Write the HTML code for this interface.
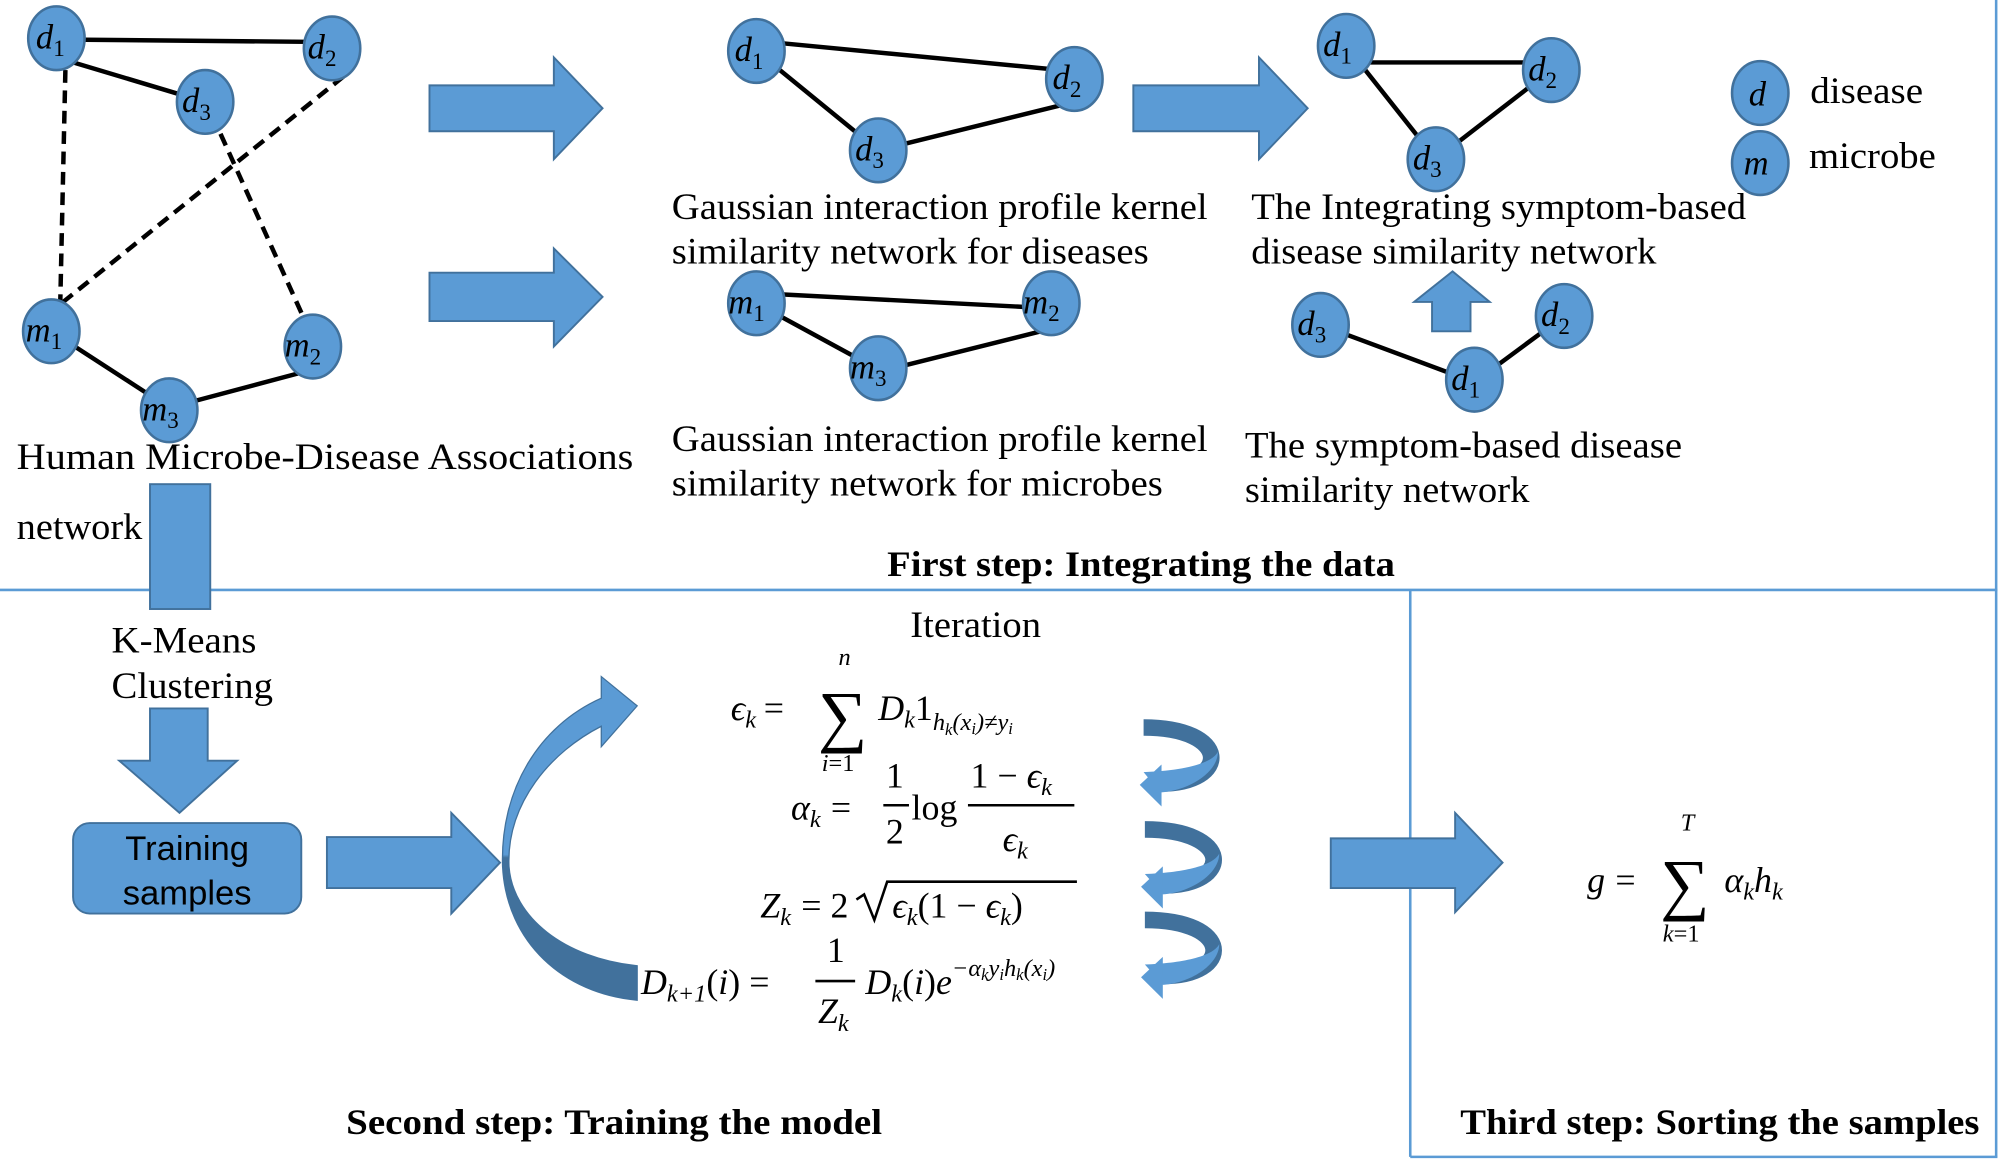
<!DOCTYPE html>
<html><head><meta charset="utf-8"><style>
html,body{margin:0;padding:0;background:#fff;}
svg{display:block}
text{font-family:"Liberation Serif",serif;fill:#000}
.t{font-size:29px}
.m{font-style:italic;font-size:28px}
.s{font-style:italic;font-size:19px}
.n{font-style:italic;font-size:27px}
.ns{font-size:18px}
.b{font-weight:bold;font-size:28px}
</style></head><body>
<svg width="2000" height="1162" viewBox="0 0 1560 912" preserveAspectRatio="none" xmlns="http://www.w3.org/2000/svg">
<defs>
<linearGradient id="cg" x1="0" y1="0" x2="0" y2="1">
<stop offset="0" stop-color="#5b9bd5"/><stop offset="0.55" stop-color="#5b9bd5"/><stop offset="0.56" stop-color="#41719c"/><stop offset="1" stop-color="#41719c"/>
</linearGradient>
</defs>
<g stroke="#5b9bd5" stroke-width="2" fill="none">
<line x1="0" y1="463" x2="1558" y2="463"/>
<line x1="1557" y1="0" x2="1557" y2="908"/>
<line x1="1100" y1="463" x2="1100" y2="908"/>
<line x1="1100" y1="908" x2="1558" y2="908"/>
</g>
<g stroke="#000" stroke-width="3.5" fill="none">
<line x1="44" y1="31" x2="259" y2="33"/>
<line x1="44" y1="45" x2="160" y2="80"/>
<line x1="40" y1="260" x2="132" y2="320"/>
<line x1="132" y1="320" x2="244" y2="290"/>
<line x1="590" y1="32" x2="838" y2="56"/>
<line x1="590" y1="40" x2="685" y2="118"/>
<line x1="685" y1="118" x2="838" y2="80"/>
<line x1="590" y1="230" x2="820" y2="242"/>
<line x1="590" y1="238" x2="685" y2="290"/>
<line x1="685" y1="292" x2="820" y2="258"/>
<line x1="1050" y1="49" x2="1210" y2="49"/>
<line x1="1050" y1="36" x2="1120" y2="125"/>
<line x1="1210" y1="55" x2="1120" y2="125"/>
<line x1="1030" y1="255" x2="1150" y2="300"/>
<line x1="1150" y1="300" x2="1220" y2="248"/>
</g>
<g stroke="#000" stroke-width="3.5" fill="none" stroke-dasharray="10,6">
<line x1="51" y1="55" x2="47" y2="238"/>
<line x1="268" y1="60" x2="48" y2="238"/>
<line x1="172" y1="105" x2="238" y2="252"/>
</g>
<g fill="#5b9bd5" stroke="#41719c" stroke-width="2">
<ellipse cx="44" cy="30" rx="22" ry="25"/>
<ellipse cx="259" cy="38" rx="22" ry="25"/>
<ellipse cx="160" cy="80" rx="22" ry="25"/>
<ellipse cx="40" cy="260" rx="22" ry="25"/>
<ellipse cx="244" cy="272" rx="22" ry="25"/>
<ellipse cx="132" cy="322" rx="22" ry="25"/>
<ellipse cx="590" cy="40" rx="22" ry="25"/>
<ellipse cx="838" cy="62" rx="22" ry="25"/>
<ellipse cx="685" cy="118" rx="22" ry="25"/>
<ellipse cx="590" cy="238" rx="22" ry="25"/>
<ellipse cx="820" cy="238" rx="22" ry="25"/>
<ellipse cx="685" cy="289" rx="22" ry="25"/>
<ellipse cx="1050" cy="36" rx="22" ry="25"/>
<ellipse cx="1210" cy="55" rx="22" ry="25"/>
<ellipse cx="1120" cy="125" rx="22" ry="25"/>
<ellipse cx="1030" cy="255" rx="22" ry="25"/>
<ellipse cx="1220" cy="248" rx="22" ry="25"/>
<ellipse cx="1150" cy="298" rx="22" ry="25"/>
<ellipse cx="1373" cy="73" rx="22" ry="25"/>
<ellipse cx="1373" cy="128" rx="22" ry="25"/>
</g>
<g class="n">
<text x="28" y="38" class="n">d<tspan class="ns" font-style="normal" dy="6">1</tspan></text>
<text x="240" y="46" class="n">d<tspan class="ns" font-style="normal" dy="6">2</tspan></text>
<text x="142" y="88" class="n">d<tspan class="ns" font-style="normal" dy="6">3</tspan></text>
<text x="20" y="268" class="n">m<tspan class="ns" font-style="normal" dy="6">1</tspan></text>
<text x="222" y="280" class="n">m<tspan class="ns" font-style="normal" dy="6">2</tspan></text>
<text x="111" y="330" class="n">m<tspan class="ns" font-style="normal" dy="6">3</tspan></text>
<text x="573" y="48" class="n">d<tspan class="ns" font-style="normal" dy="6">1</tspan></text>
<text x="821" y="70" class="n">d<tspan class="ns" font-style="normal" dy="6">2</tspan></text>
<text x="667" y="126" class="n">d<tspan class="ns" font-style="normal" dy="6">3</tspan></text>
<text x="568" y="246" class="n">m<tspan class="ns" font-style="normal" dy="6">1</tspan></text>
<text x="798" y="246" class="n">m<tspan class="ns" font-style="normal" dy="6">2</tspan></text>
<text x="663" y="297" class="n">m<tspan class="ns" font-style="normal" dy="6">3</tspan></text>
<text x="1032" y="44" class="n">d<tspan class="ns" font-style="normal" dy="6">1</tspan></text>
<text x="1192" y="63" class="n">d<tspan class="ns" font-style="normal" dy="6">2</tspan></text>
<text x="1102" y="133" class="n">d<tspan class="ns" font-style="normal" dy="6">3</tspan></text>
<text x="1012" y="263" class="n">d<tspan class="ns" font-style="normal" dy="6">3</tspan></text>
<text x="1202" y="256" class="n">d<tspan class="ns" font-style="normal" dy="6">2</tspan></text>
<text x="1132" y="306" class="n">d<tspan class="ns" font-style="normal" dy="6">1</tspan></text>
<text x="1364" y="83" class="n">d</text>
<text x="1360" y="137" class="n">m</text>
</g>
<g fill="#5b9bd5" stroke="#41719c" stroke-width="1.5">
<polygon points="335,67 432,67 432,45 470,85 432,125 432,103 335,103"/>
<polygon points="335,214 432,214 432,195 470,233 432,272 432,252 335,252"/>
<polygon points="884,67 982,67 982,45 1020,85 982,125 982,103 884,103"/>
<polygon points="1117,260 1117,237 1103,237 1133,213 1162,237 1147,237 1147,260"/>
<rect x="117" y="380" width="47" height="98"/>
<polygon points="117,556 162,556 162,597 185,597 140,638 93,597 117,597"/>
<rect x="57" y="646" width="178" height="71" rx="13"/>
<polygon points="255,657 352,657 352,638 390,677 352,717 352,697 255,697"/>
<polygon points="1038,658 1135,658 1135,638 1172,677 1135,716 1135,697 1038,697"/>
</g>
<path d="M469,531 L497,554 L469,586 L469,570 C430,590 395,630 397,680 C400,720 440,752 497,758 L497,785 C440,780 395,740 392,680 C390,620 420,570 469,548 Z" fill="url(#cg)" stroke="#41719c" stroke-width="1"/>
<g fill="none" stroke-width="13">
<path d="M892,571 C960,571 960,615 905,615" stroke="#41719c"/>
<path d="M893,651 C962,651 962,695 907,695" stroke="#41719c"/>
<path d="M893,722 C962,722 962,766 907,766" stroke="#41719c"/>
</g>
<g fill="#5b9bd5">
<path d="M892,606 C920,605 945,600 950,590 C950,605 930,620 905,622 Z"/>
<polygon points="906,600 889,616 906,633"/>
<path d="M893,686 C921,685 946,680 951,670 C951,685 931,700 907,702 Z"/>
<polygon points="907,680 890,696 907,713"/>
<path d="M893,757 C921,756 946,751 951,741 C951,756 931,771 907,773 Z"/>
<polygon points="907,751 890,767 907,784"/>
</g>
<text class="t" x="13" y="368" textLength="481" lengthAdjust="spacingAndGlyphs">Human  Microbe-Disease  Associations</text>
<text class="t" x="13" y="423" textLength="98" lengthAdjust="spacingAndGlyphs">network</text>
<text class="t" x="524" y="172" textLength="418" lengthAdjust="spacingAndGlyphs">Gaussian interaction profile kernel</text>
<text class="t" x="524" y="207" textLength="372" lengthAdjust="spacingAndGlyphs">similarity network for diseases</text>
<text class="t" x="524" y="354" textLength="418" lengthAdjust="spacingAndGlyphs">Gaussian interaction profile kernel</text>
<text class="t" x="524" y="389" textLength="383" lengthAdjust="spacingAndGlyphs">similarity network for microbes</text>
<text class="t" x="976" y="172" textLength="386" lengthAdjust="spacingAndGlyphs">The Integrating symptom-based</text>
<text class="t" x="976" y="207" textLength="316" lengthAdjust="spacingAndGlyphs">disease similarity network</text>
<text class="t" x="971" y="359" textLength="341" lengthAdjust="spacingAndGlyphs">The symptom-based disease</text>
<text class="t" x="971" y="394" textLength="222" lengthAdjust="spacingAndGlyphs">similarity network</text>
<text class="t" x="1412" y="81" textLength="88" lengthAdjust="spacingAndGlyphs">disease</text>
<text class="t" x="1411" y="132" textLength="99" lengthAdjust="spacingAndGlyphs">microbe</text>
<text class="b" x="692" y="452" textLength="396" lengthAdjust="spacingAndGlyphs">First step: Integrating the data</text>
<text class="t" x="87" y="512" textLength="113" lengthAdjust="spacingAndGlyphs">K-Means</text>
<text class="t" x="87" y="548" textLength="126" lengthAdjust="spacingAndGlyphs">Clustering</text>
<text x="146" y="675" text-anchor="middle" style="font-family:'Liberation Sans',sans-serif;font-size:27px">Training</text>
<text x="146" y="710" text-anchor="middle" style="font-family:'Liberation Sans',sans-serif;font-size:27px">samples</text>
<text class="t" x="710" y="500" textLength="102" lengthAdjust="spacingAndGlyphs">Iteration</text>
<text class="b" x="270" y="890" textLength="418" lengthAdjust="spacingAndGlyphs">Second step: Training the model</text>
<text class="b" x="1139" y="890" textLength="405" lengthAdjust="spacingAndGlyphs">Third step: Sorting the samples</text>
<text class="m" x="570" y="565">ϵ<tspan class="s" dy="6">k</tspan><tspan font-style="normal" dy="-6" dx="6">=</tspan></text>
<text x="638" y="580" style="font-size:54px">∑</text>
<text class="s" x="654" y="522">n</text>
<text x="641" y="605" style="font-size:19px"><tspan font-style="italic">i</tspan>=1</text>
<text class="m" x="685" y="565">D<tspan class="s" dy="6">k</tspan><tspan font-style="normal" dy="-6">1</tspan><tspan class="s" dy="8">h</tspan><tspan font-size="13" font-style="italic" dy="4">k</tspan><tspan class="s" dy="-4">(x</tspan><tspan font-size="13" font-style="italic" dy="3">i</tspan><tspan class="s" dy="-3">)≠y</tspan><tspan font-size="13" font-style="italic" dy="3">i</tspan></text>
<text class="m" x="617" y="643">α<tspan class="s" dy="6">k</tspan><tspan font-style="normal" dy="-6" dx="8">=</tspan></text>
<text x="691" y="618" style="font-size:28px">1</text>
<line x1="689" y1="632" x2="709" y2="632" stroke="#000" stroke-width="2"/>
<text x="691" y="662" style="font-size:28px">2</text>
<text x="711" y="643" style="font-size:28px">log</text>
<text class="m" x="757" y="618"><tspan font-style="normal">1 − </tspan>ϵ<tspan class="s" dy="6">k</tspan></text>
<line x1="755" y1="632" x2="838" y2="632" stroke="#000" stroke-width="2"/>
<text class="m" x="782" y="668">ϵ<tspan class="s" dy="6">k</tspan></text>
<text class="m" x="593" y="720">Z<tspan class="s" dy="6">k</tspan><tspan font-style="normal" dy="-6" dx="8">= 2</tspan></text>
<path d="M668,706 L674,702 L682,722 L692,692 L840,692" fill="none" stroke="#000" stroke-width="2"/>
<text class="m" x="696" y="720">ϵ<tspan class="s" dy="6">k</tspan><tspan font-style="normal" dy="-6">(1 − </tspan>ϵ<tspan class="s" dy="6">k</tspan><tspan font-style="normal" dy="-6">)</tspan></text>
<text class="m" x="500" y="780">D<tspan class="s" dy="6" font-style="normal"><tspan font-style="italic">k</tspan>+1</tspan><tspan font-style="normal" dy="-6">(</tspan>i<tspan font-style="normal">) =</tspan></text>
<text x="645" y="755" style="font-size:28px">1</text>
<line x1="636" y1="770" x2="667" y2="770" stroke="#000" stroke-width="2"/>
<text class="m" x="638" y="803">Z<tspan class="s" dy="6">k</tspan></text>
<text class="m" x="675" y="780">D<tspan class="s" dy="6">k</tspan><tspan font-style="normal" dy="-6">(</tspan>i<tspan font-style="normal">)</tspan>e<tspan class="s" dy="-14">−α</tspan><tspan font-size="13" font-style="italic" dy="3">k</tspan><tspan class="s" dy="-3">y</tspan><tspan font-size="13" font-style="italic" dy="3">i</tspan><tspan class="s" dy="-3">h</tspan><tspan font-size="13" font-style="italic" dy="3">k</tspan><tspan class="s" dy="-3">(x</tspan><tspan font-size="13" font-style="italic" dy="3">i</tspan><tspan class="s" dy="-3">)</tspan></text>
<text class="m" x="1238" y="700">g<tspan font-style="normal" dx="8">=</tspan></text>
<text x="1295" y="712" style="font-size:54px">∑</text>
<text class="s" x="1311" y="652">T</text>
<text x="1297" y="739" style="font-size:19px"><tspan font-style="italic">k</tspan>=1</text>
<text class="m" x="1345" y="700">α<tspan class="s" dy="6">k</tspan><tspan dy="-6">h</tspan><tspan class="s" dy="6">k</tspan></text>
</svg>
</body></html>
